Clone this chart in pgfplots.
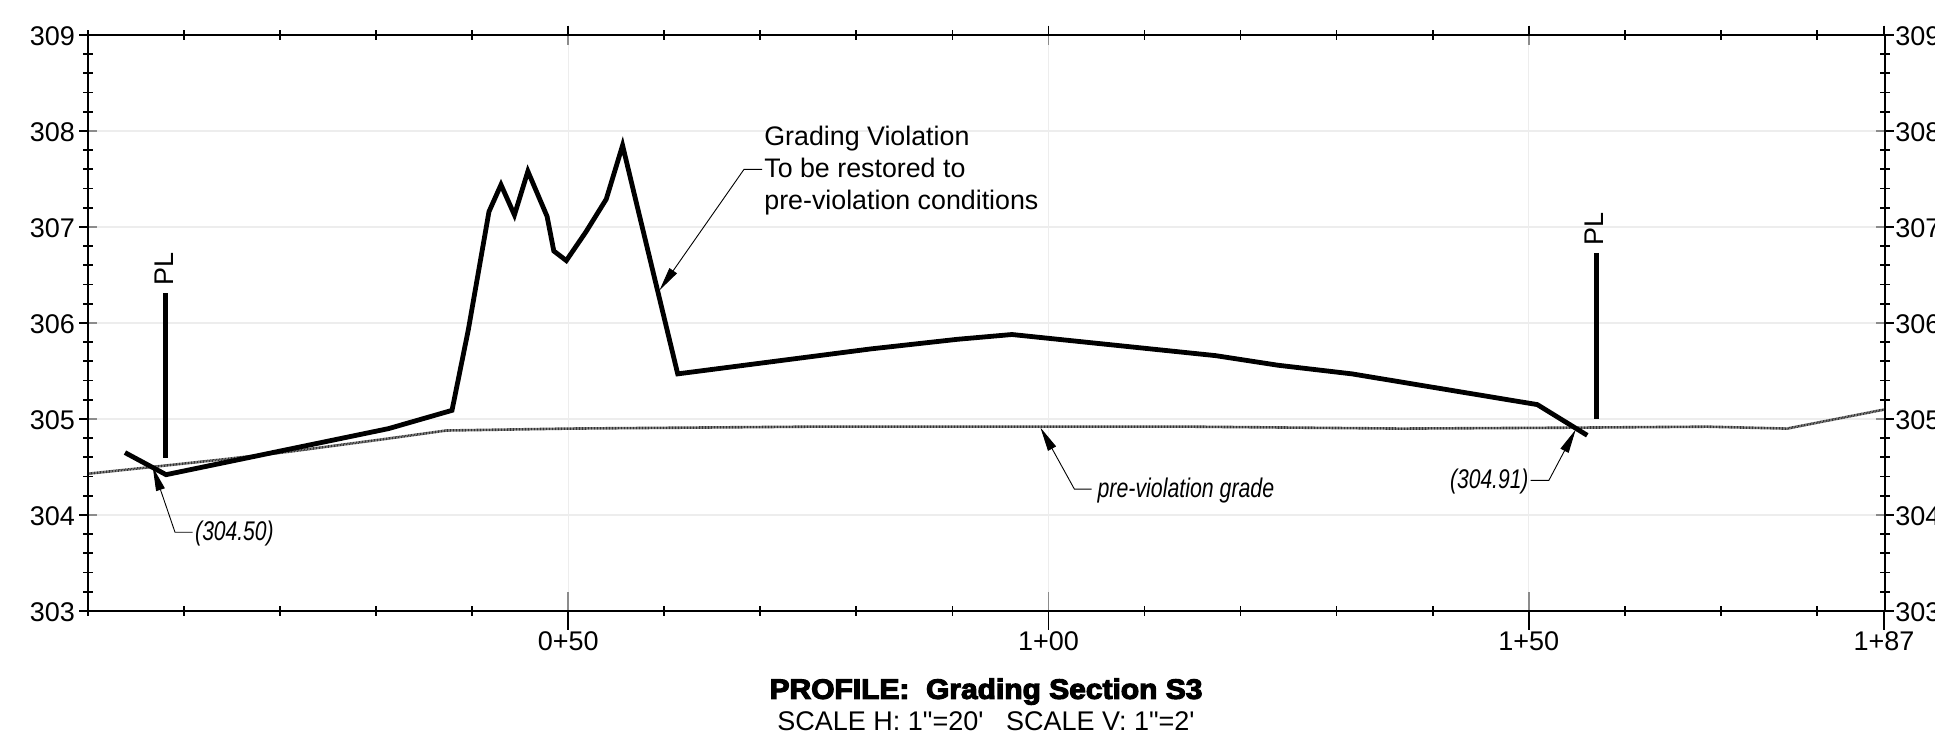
\documentclass[border=0pt]{standalone}
\usepackage{fontspec}
\setmainfont{Liberation Sans}
\newfontfamily\plainfont{Liberation Sans}
\newfontfamily\heavyfont[BoldFeatures={FakeBold=4}]{Liberation Sans}
\usepackage{pgfplots}
\pgfplotsset{compat=1.18}
\usetikzlibrary{arrows.meta}
\definecolor{gridc}{gray}{0.93}
\definecolor{stubc}{gray}{0.55}
\newcommand{\labelfont}{\fontsize{27}{32}\selectfont}
\pgfplotsset{base/.style={
  scale only axis, width=1797pt, height=576pt,
  xmin=0, xmax=187.1, ymin=303, ymax=309,
  at={(88pt,127pt)}, anchor=south west,
  axis line style={line width=2pt, black},
  tick style={line width=1.8pt, black},
  clip=false,
  font=\labelfont,
}}
\begin{document}
\begin{tikzpicture}[x=1pt,y=1pt]
\useasboundingbox (0,0) rectangle (1935,738);
% main axis: grid, data, lower and left ticks
\begin{axis}[base,
  xtick={50,100,150,187}, xticklabels={0+50,1+00,1+50,1+87},
  ytick={303,304,305,306,307,308,309}, yticklabels={303,304,305,306,307,308,309},
  xtick pos=bottom, ytick pos=left, tick align=outside,
  major tick length=19pt,
  xticklabel style={inner sep=0pt, yshift=-1pt},
  yticklabel style={inner sep=0pt, xshift=6pt, yshift=-1pt},
  ytick style={draw=none},
  grid=none, unbounded coords=jump,
]
% grid
\addplot[gridc, line width=1.2pt, forget plot] coordinates {(50,303)(50,309)(nan,nan)(100,303)(100,309)(nan,nan)(150,303)(150,309)(nan,nan)
 (0,304)(187.1,304)(nan,nan)(0,305)(187.1,305)(nan,nan)(0,306)(187.1,306)(nan,nan)(0,307)(187.1,307)(nan,nan)(0,308)(187.1,308)};
% inner gray stubs
\addplot[stubc, line width=1.8pt, forget plot] coordinates {(50,303)(50,303.2)(nan,nan)(100,303)(100,303.2)(nan,nan)(150,303)(150,303.2)(nan,nan)
 (50,309)(50,308.9)(nan,nan)(100,309)(100,308.9)(nan,nan)(150,309)(150,308.9)(nan,nan)
 (0,303)(0.95,303)(nan,nan)(0,304)(0.95,304)(nan,nan)(0,305)(0.95,305)(nan,nan)(0,306)(0.95,306)(nan,nan)(0,307)(0.95,307)(nan,nan)(0,308)(0.95,308)(nan,nan)(0,309)(0.95,309)(nan,nan)
 (187.1,303)(186.15,303)(nan,nan)(187.1,304)(186.15,304)(nan,nan)(187.1,305)(186.15,305)(nan,nan)(187.1,306)(186.15,306)(nan,nan)(187.1,307)(186.15,307)(nan,nan)(187.1,308)(186.15,308)(nan,nan)(187.1,309)(186.15,309)};
% left outward stubs of the whole-foot ticks
\addplot[black, line width=1.8pt, forget plot] coordinates {(0,303)(-0.95,303)(nan,nan)(0,304)(-0.95,304)(nan,nan)(0,305)(-0.95,305)(nan,nan)(0,306)(-0.95,306)(nan,nan)(0,307)(-0.95,307)(nan,nan)(0,308)(-0.95,308)(nan,nan)(0,309)(-0.95,309)};
% pre-violation grade
\addplot[black!80, line width=2.6pt, dash pattern=on 1pt off 0.5pt, forget plot] coordinates {
 (0,304.43)(6.65,304.50)(14.1,304.58)(21,304.66)(30.8,304.79)(37.3,304.88)(50,304.90)(75,304.92)(99,304.92)(115,304.92)(136.7,304.90)(155,304.91)(168.6,304.92)(176.9,304.90)(187.1,305.10)};
% current grade
\addplot[black, line width=4.8pt, line join=miter, forget plot] coordinates {
 (3.85,304.65)(8.13,304.42)(31.3,304.90)(37.9,305.09)(39.6,305.93)(41.75,307.16)(43.0,307.44)(44.4,307.125)(45.8,307.58)(47.8,307.11)(48.5,306.75)(49.8,306.65)(51.85,306.95)(53.96,307.29)(55.66,307.85)(57.1,307.25)(61.4,305.47)(81.5,305.73)(90.5,305.83)(96.2,305.88)(117.4,305.66)(123.9,305.56)(131.6,305.47)(150.9,305.15)(156.1,304.83)};
% property lines
\addplot[black, line width=4.8pt, forget plot] coordinates {(8.08,306.31)(8.08,304.59)};
\addplot[black, line width=4.8pt, forget plot] coordinates {(157.1,306.73)(157.1,305.0)};
% leaders
\tikzset{lead/.style={black, line width=0.9pt, -{Stealth[length=24pt,width=9pt,inset=0pt]}}}
\addplot[lead, forget plot] coordinates {(70.2,307.60)(68.3,307.60)(59.5,306.34)};
\addplot[lead, forget plot] coordinates {(10.9,303.82)(9.06,303.82)(6.74,304.50)};
\addplot[lead, forget plot] coordinates {(104.5,304.27)(102.7,304.27)(99.17,304.91)};
\addplot[lead, forget plot] coordinates {(150.2,304.36)(152.1,304.36)(154.9,304.89)};
% text
\node[anchor=west, align=left, inner sep=0pt, font=\fontsize{26.8}{32}\selectfont] at (axis cs:70.4,307.59) {Grading Violation\\To be restored to\\pre-violation conditions};
\node[anchor=center, rotate=90, inner sep=0pt] at (axis cs:7.9,306.56) {PL};
\node[anchor=center, rotate=90, inner sep=0pt] at (axis cs:156.8,306.98) {PL};
\node[anchor=west, inner sep=0pt, xscale=0.78] at (axis cs:11.15,303.805) {\itshape (304.50)};
\node[anchor=west, inner sep=0pt, xscale=0.79] at (axis cs:105.1,304.255) {\itshape pre-violation grade};
\node[anchor=east, inner sep=0pt, xscale=0.78] at (axis cs:150,304.345) {\itshape (304.91)};
\node[anchor=center, inner sep=0pt, xscale=1.07, font=\fontsize{28}{32}\heavyfont\bfseries] at (axis cs:93.5,302.16) {PROFILE:\ \ Grading Section S3};
\node[anchor=center, inner sep=0pt, font=\fontsize{27}{32}\plainfont] at (axis cs:93.5,301.85) {SCALE H: 1"=20'\ \ \ SCALE V: 1"=2'};
\end{axis}
% upper and right ticks
\begin{axis}[base,
  xtick={50,100,150,187}, xticklabels={},
  ytick={303,304,305,306,307,308,309}, yticklabels={303,304,305,306,307,308,309},
  xtick pos=top, ytick pos=right, yticklabel pos=right, tick align=outside,
  xtick style={/pgfplots/major tick length=9.3pt},
  ytick style={/pgfplots/major tick length=9pt},
  yticklabel style={inner sep=0pt, xshift=6pt, yshift=-1pt},
]
\end{axis}
% intermediate ticks crossing all four lines
\begin{axis}[base,
  xtick={0,10,20,30,40,60,70,80,90,110,120,130,140,160,170,180}, xticklabels={},
  ytick={303.2,303.4,303.6,303.8,304.2,304.4,304.6,304.8,305.2,305.4,305.6,305.8,306.2,306.4,306.6,306.8,307.2,307.4,307.6,307.8,308.2,308.4,308.6,308.8}, yticklabels={},
  tick align=center, xtick pos=both, ytick pos=both,
  major tick length=9.4pt,
]
\end{axis}
\end{tikzpicture}
\end{document}
